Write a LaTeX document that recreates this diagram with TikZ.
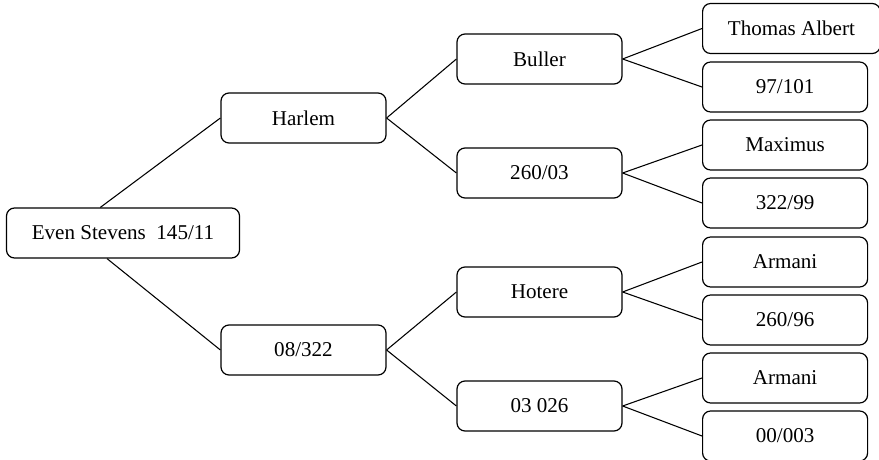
\documentclass[tikz,border=0pt]{standalone}
\usepackage{fontspec}
\setmainfont{Liberation Serif}
\begin{document}
\begin{tikzpicture}%
	[x=0.75pt, y=-0.75pt,
	box/.style={draw=black, line width=0.9pt, rounded corners=6pt, minimum width=123.75pt, minimum height=37.5pt, inner xsep=19pt, font=\fontsize{15.8}{19}\selectfont},
	leaf/.style={box, anchor=west},
	edge/.style={color=black, line width=0.8pt}]
	\useasboundingbox (0,0) rectangle (879,460);

	%root and first level
	\node[box] (root) at (123,233)     {Even Stevens\ \ 145/11};
	\node[box] (harlem) at (303.5,118)     {Harlem};
	\node[box] (n08322) at (303.5,350)     {08/322};

	%second level
	\node[box] (buller) at (539.5,59)     {Buller};
	\node[box] (n26003) at (539.5,173)     {260/03};
	\node[box] (hotere) at (539.5,292)     {Hotere};
	\node[box] (n03026) at (539.5,406)     {03 026};

	%leaves
	\node[leaf] (thomas) at (702,28.5)     {Thomas Albert};
	\node[leaf] (n97101) at (702,87)     {97/101};
	\node[leaf] (maximus) at (702,145)     {Maximus};
	\node[leaf] (n32299) at (702,203)     {322/99};
	\node[leaf] (armania) at (702,262)     {Armani};
	\node[leaf] (n26096) at (702,320)     {260/96};
	\node[leaf] (armanib) at (702,378)     {Armani};
	\node[leaf] (n00003) at (702,436)     {00/003};

	%edges
	\draw[edge] ([xshift=-17pt]root.north) -- (harlem.west);
	\draw[edge] ([xshift=-12pt]root.south) -- (n08322.west);
	\foreach \a/\b/\c in {harlem/buller/n26003, n08322/hotere/n03026,
		buller/thomas/n97101, n26003/maximus/n32299,
		hotere/armania/n26096, n03026/armanib/n00003}
	{
		\draw[edge] (\a.east) -- (\b.west);
		\draw[edge] (\a.east) -- (\c.west);
	}
\end{tikzpicture}
\end{document}
